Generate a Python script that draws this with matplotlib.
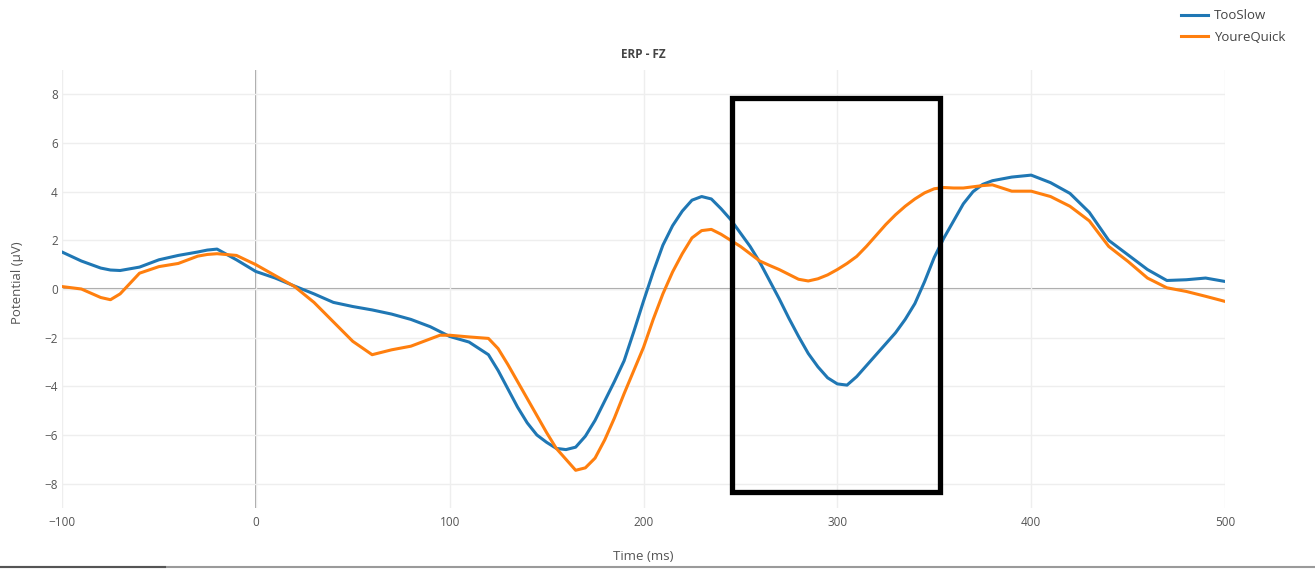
import matplotlib
matplotlib.use("Agg")
import matplotlib.pyplot as plt
from matplotlib.patches import Rectangle
from matplotlib.lines import Line2D

# ERP at FZ (ms, microvolts)
time_ms = [-100, -90, -80, -75, -70, -60, -50, -40, -30, -25, -20, -10,
           0, 10, 20, 30, 40, 50, 60, 70, 80, 90, 95, 100, 110, 120,
           125, 130, 135, 140, 145, 150, 155, 160, 165, 170, 175, 180, 185, 190, 195,
           200, 205, 210, 215, 220, 225, 230, 235, 240, 245, 250, 255, 260, 265,
           270, 275, 280, 285, 290, 295, 300, 305, 310, 315, 320, 325, 330, 335,
           340, 345, 350, 355, 360, 365, 370, 375, 380, 390, 400, 410, 420, 430,
           440, 450, 460, 470, 480, 490, 500]

too_slow = [1.52, 1.15, 0.86, 0.78, 0.76, 0.90, 1.20, 1.38, 1.52, 1.60, 1.64, 1.20,
            0.72, 0.45, 0.12, -0.20, -0.55, -0.72, -0.86, -1.03, -1.25, -1.55, -1.75, -1.95, -2.18, -2.70,
            -3.35, -4.10, -4.85, -5.50, -6.00, -6.30, -6.55, -6.60, -6.50, -6.05, -5.40, -4.60, -3.80, -2.95, -1.75,
            -0.50, 0.70, 1.80, 2.60, 3.20, 3.65, 3.80, 3.70, 3.30, 2.85, 2.30, 1.75, 1.10, 0.35,
            -0.40, -1.20, -1.95, -2.65, -3.20, -3.65, -3.90, -3.95, -3.60, -3.15, -2.70, -2.25, -1.80, -1.25,
            -0.60, 0.30, 1.30, 2.10, 2.80, 3.50, 4.00, 4.30, 4.45, 4.60, 4.68, 4.37, 3.93, 3.15,
            2.00, 1.40, 0.80, 0.35, 0.38, 0.45, 0.31]

youre_quick = [0.10, 0.00, -0.35, -0.44, -0.20, 0.65, 0.92, 1.05, 1.35, 1.42, 1.45, 1.38,
               1.00, 0.55, 0.10, -0.55, -1.35, -2.15, -2.70, -2.50, -2.35, -2.05, -1.90, -1.90, -1.97, -2.03,
               -2.45, -3.10, -3.80, -4.50, -5.20, -5.90, -6.55, -7.00, -7.45, -7.35, -6.95, -6.20, -5.30, -4.30, -3.35,
               -2.40, -1.25, -0.20, 0.70, 1.45, 2.10, 2.40, 2.45, 2.25, 2.00, 1.75, 1.45, 1.15, 0.97,
               0.80, 0.60, 0.40, 0.33, 0.42, 0.58, 0.80, 1.05, 1.34, 1.75, 2.20, 2.65, 3.05, 3.40,
               3.70, 3.95, 4.12, 4.17, 4.15, 4.15, 4.20, 4.25, 4.28, 4.02, 4.02, 3.80, 3.40, 2.80,
               1.75, 1.13, 0.45, 0.05, -0.10, -0.30, -0.51]

x_ticks = [-100, 0, 100, 200, 300, 400, 500]
y_ticks = [-8, -6, -4, -2, 0, 2, 4, 6, 8]

# highlighted window
box_t0, box_t1 = 245.5, 353
box_v0, box_v1 = -8.34, 7.86

plt.rcParams['font.family'] = ['Open Sans', 'DejaVu Sans']

W, H = 1315, 572
fig = plt.figure(figsize=(W/100, H/100), dpi=100)
ax = fig.add_axes([62/W, 1-508/H, (1225-62)/W, (508-70)/H])

ax.plot(time_ms, too_slow, color="#1f77b4", lw=2.2, label="TooSlow", zorder=3,
        solid_joinstyle="round")
ax.plot(time_ms, youre_quick, color="#ff7f0e", lw=2.2, label="YoureQuick", zorder=3,
        solid_joinstyle="round")

ax.set_xlim(-100, 500)
ax.set_ylim(-9, 9)
ax.set_xticks(x_ticks)
ax.set_yticks(y_ticks)
ax.grid(True, color="#eeeeee", lw=1.0, zorder=0)
ax.axhline(0, color="#a0a0a0", lw=1.5, zorder=1)
ax.axvline(0, color="#999999", lw=1.3, zorder=1)
for s in ax.spines.values():
    s.set_visible(False)
ax.tick_params(length=0, labelsize=8.5, labelcolor="#555555")
ax.tick_params(axis="x", pad=6)
ax.tick_params(axis="y", pad=3)

ax.add_patch(Rectangle((box_t0, box_v0), box_t1-box_t0, box_v1-box_v0,
                       fill=False, edgecolor="black", lw=3.8, joinstyle="miter", zorder=4))

fig.text(643.5/W, 1-54/H, "ERP - FZ", ha="center", va="center",
         fontsize=8.5, fontweight="bold", color="#444444")
fig.text(18/W, 1-283/H, "Potential (μV)", ha="center", va="center",
         rotation=90, fontsize=9.5, color="#555555")
fig.text(643/W, 1-557/H, "Time (ms)", ha="center", va="center",
         fontsize=9.5, color="#555555")

ax.legend(loc="upper left", bbox_to_anchor=(1176/W, 1-4/H), bbox_transform=fig.transFigure,
          frameon=False, fontsize=9.5, handlelength=2.0, handletextpad=0.5,
          labelspacing=0.65, borderaxespad=0, labelcolor="#444444")

# screenshot border at the bottom
fig.add_artist(Line2D([0, 1], [1-567/H, 1-567/H], transform=fig.transFigure,
                      color="#9a9a9a", lw=1.5))
fig.add_artist(Line2D([0, 165/W], [1-567/H, 1-567/H], transform=fig.transFigure,
                      color="#555555", lw=1.5))

fig.savefig("out.png", dpi=100)
